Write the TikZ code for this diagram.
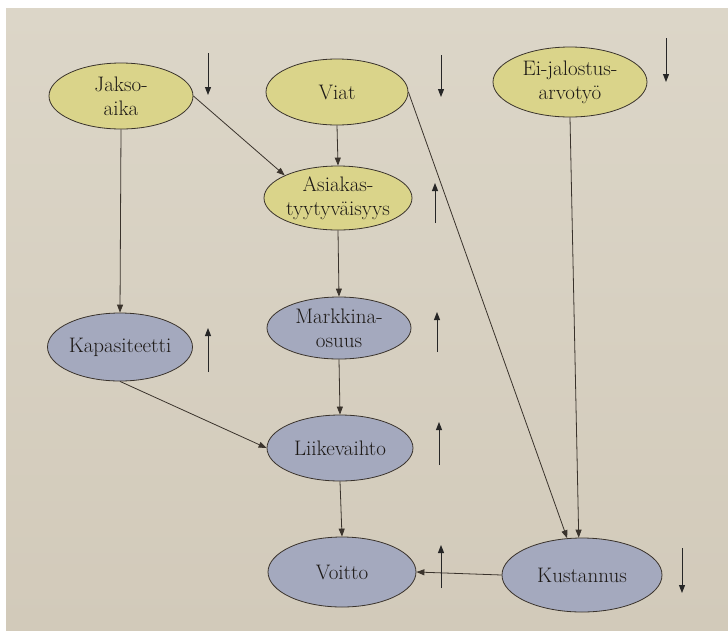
\documentclass[tikz,border=0pt]{standalone}
\usepackage{fontspec}
\usetikzlibrary{shapes.geometric,arrows.meta}
\definecolor{paperT}{HTML}{DCD6C8}
\definecolor{paperB}{HTML}{D2CABA}
\definecolor{yel}{HTML}{DAD48A}
\definecolor{blu}{HTML}{A4A9BE}
\definecolor{ink}{HTML}{3A332C}
\begin{document}
\begin{tikzpicture}[x=1pt,y=-1pt,
  nd/.style={ellipse,draw=ink,line width=0.8pt,inner sep=0pt,align=center,
    text=ink!50!black,font=\rmfamily\fontsize{21}{24}\selectfont\addfontfeature{FakeBold=0.6}},
  ynd/.style={nd,fill=yel},
  bnd/.style={nd,fill=blu},
  conn/.style={draw=ink,line width=0.8pt,-{Triangle[length=8pt,width=6pt]}},
  ind/.style={draw=black!85,line width=1pt,-{Triangle[length=8pt,width=6pt]}}]
\useasboundingbox (0,0) rectangle (728,630);
\fill[white] (0,0) rectangle (728,630);
\shade[top color=paperT,bottom color=paperB] (6,8) rectangle (728,630);

% nodes
\node[ynd,minimum width=144pt,minimum height=66pt] (jakso) at (121,96) {Jakso-\\aika};
\node[ynd,minimum width=142pt,minimum height=66pt] (viat) at (337,92) {Viat};
\node[ynd,minimum width=154pt,minimum height=70pt] (ei) at (570,82) {Ei-jalostus-\\arvotyö};
\node[ynd,minimum width=148pt,minimum height=64pt] (asiakas) at (338,198) {Asiakas-\\tyytyväisyys};
\node[bnd,minimum width=145pt,minimum height=68pt] (kap) at (120,347) {Kapasiteetti};
\node[bnd,minimum width=144pt,minimum height=62pt] (mark) at (339,328) {Markkina-\\osuus};
\node[bnd,minimum width=146pt,minimum height=66pt] (liike) at (340,448) {Liikevaihto};
\node[bnd,minimum width=148pt,minimum height=70pt] (voitto) at (342,572) {Voitto};
\node[bnd,minimum width=160pt,minimum height=74pt] (kust) at (582,575) {Kustannus};

% connectors
\draw[conn] (jakso.south) -- (kap.north);
\draw[conn] (jakso.east) -- (asiakas.157);
\draw[conn] (viat.south) -- (asiakas.north);
\draw[conn] (viat.east) -- (kust.112);
\draw[conn] (ei.south) -- (kust.95);
\draw[conn] (asiakas.south) -- (mark.north);
\draw[conn] (mark.south) -- (liike.north);
\draw[conn] (kap.south) -- (liike.west);
\draw[conn] (liike.south) -- (voitto.north);
\draw[conn] (kust.west) -- (voitto.east);

% trend indicators
\coordinate (d1a) at (208,53);  \coordinate (d1b) at (208,95);
\coordinate (d2a) at (441,55);  \coordinate (d2b) at (441,97);
\coordinate (d3a) at (666,38);  \coordinate (d3b) at (666,82);
\coordinate (d4a) at (682,548); \coordinate (d4b) at (682,593);
\draw[ind] (d1a) -- (d1b);
\draw[ind] (d2a) -- (d2b);
\draw[ind] (d3a) -- (d3b);
\draw[ind] (d4a) -- (d4b);
\coordinate (u1a) at (435,223); \coordinate (u1b) at (435,183);
\coordinate (u2a) at (208,372); \coordinate (u2b) at (208,328);
\coordinate (u3a) at (437,352); \coordinate (u3b) at (437,312);
\coordinate (u4a) at (439,465); \coordinate (u4b) at (439,422);
\coordinate (u5a) at (441,588); \coordinate (u5b) at (441,545);
\draw[ind] (u1a) -- (u1b);
\draw[ind] (u2a) -- (u2b);
\draw[ind] (u3a) -- (u3b);
\draw[ind] (u4a) -- (u4b);
\draw[ind] (u5a) -- (u5b);
\end{tikzpicture}
\end{document}
